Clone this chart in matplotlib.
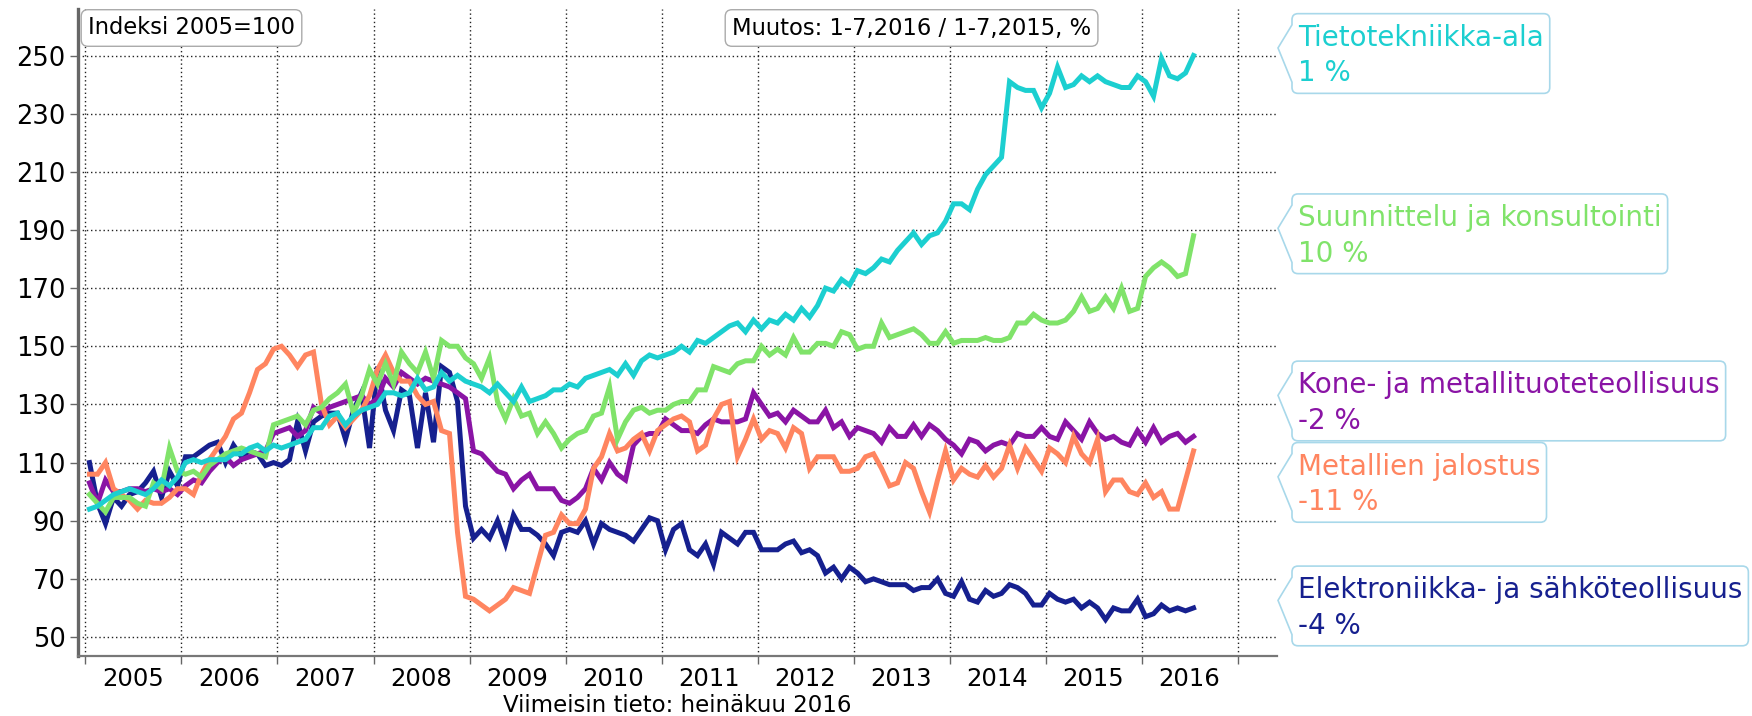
import numpy as np
import matplotlib
matplotlib.use("Agg")
import matplotlib.pyplot as plt
from matplotlib.path import Path
from matplotlib.transforms import blended_transform_factory

# monthly index 2005=100, Jan 2005 .. Jul 2016
tieto = [94, 95, 97, 99, 100, 101, 100, 99, 101, 104, 102, 105,
         110, 111, 110, 111, 111, 111, 113, 113, 115, 116, 114, 116,
         115, 116, 117, 118, 122, 122, 126, 127, 123, 126, 128, 129,
         130, 134, 134, 133, 134, 139, 135, 136, 141, 138, 140, 138,
         137, 136, 134, 137, 134, 131, 136, 131, 132, 133, 135, 135,
         137, 136, 139, 140, 141, 142, 140, 144, 140, 145, 147, 146,
         147, 148, 150, 148, 152, 151, 153, 155, 157, 158, 155, 159,
         156, 159, 158, 161, 159, 163, 160, 164, 170, 169, 173, 171,
         176, 175, 177, 180, 179, 183, 186, 189, 185, 188, 189, 193,
         199, 199, 197, 204, 209, 212, 215, 241, 239, 238, 238, 232,
         237, 246, 239, 240, 243, 241, 243, 241, 240, 239, 239, 243,
         241, 236, 249, 243, 242, 244, 250]

suunnittelu = [99, 96, 93, 98, 98, 98, 96, 95, 103, 101, 115, 107,
               106, 107, 105, 109, 111, 113, 114, 115, 114, 113, 112, 123,
               124, 125, 126, 123, 128, 129, 132, 134, 137, 127, 133, 142,
               137, 144, 137, 148, 144, 141, 148, 139, 152, 150, 150, 146,
               144, 139, 146, 131, 125, 132, 126, 127, 120, 124, 120, 115,
               118, 120, 121, 126, 127, 136, 118, 124, 128, 129, 127, 128,
               128, 130, 131, 131, 135, 135, 143, 142, 141, 144, 145, 145,
               150, 147, 149, 147, 153, 148, 148, 151, 151, 150, 155, 154,
               149, 150, 150, 158, 153, 154, 155, 156, 154, 151, 151, 155,
               151, 152, 152, 152, 153, 152, 152, 153, 158, 158, 161, 159,
               158, 158, 159, 162, 167, 162, 163, 167, 163, 170, 162, 163,
               174, 177, 179, 177, 174, 175, 188]

kone = [103, 96, 104, 100, 100, 101, 101, 100, 101, 100, 101, 99,
        102, 104, 103, 107, 110, 112, 109, 111, 112, 113, 114, 120,
        121, 122, 119, 121, 129, 127, 129, 130, 131, 132, 133, 130,
        132, 139, 136, 141, 139, 137, 139, 138, 137, 136, 134, 132,
        114, 113, 110, 107, 106, 101, 104, 106, 101, 101, 101, 97,
        96, 98, 101, 108, 104, 110, 106, 104, 116, 119, 120, 120,
        125, 123, 121, 121, 120, 123, 125, 124, 124, 124, 125, 134,
        130, 126, 127, 124, 128, 126, 124, 124, 128, 122, 124, 119,
        122, 121, 120, 117, 122, 119, 119, 123, 119, 123, 121, 118,
        116, 113, 118, 117, 114, 116, 117, 116, 120, 119, 119, 122,
        119, 118, 124, 121, 118, 124, 120, 118, 119, 117, 116, 121,
        117, 122, 117, 119, 120, 117, 119]

metallit = [106, 106, 110, 101, 99, 97, 94, 97, 96, 96, 98, 101,
            101, 99, 106, 111, 115, 119, 125, 127, 134, 142, 144, 149,
            150, 147, 143, 147, 148, 130, 123, 126, 122, 125, 128, 133,
            142, 147, 141, 138, 138, 133, 130, 131, 121, 120, 86, 64,
            63, 61, 59, 61, 63, 67, 66, 65, 75, 85, 86, 92,
            89, 89, 94, 108, 112, 120, 114, 115, 118, 120, 114, 121,
            123, 125, 126, 124, 114, 116, 125, 130, 131, 112, 118, 125,
            118, 121, 120, 115, 122, 120, 108, 112, 112, 112, 107, 107,
            108, 112, 113, 108, 102, 103, 110, 108, 100, 93, 104, 114,
            104, 108, 106, 105, 109, 105, 108, 116, 108, 115, 111, 107,
            115, 113, 110, 119, 113, 110, 118, 100, 104, 104, 100, 99,
            103, 98, 100, 94, 94, 104, 114]

elektroniikka = [110, 96, 89, 98, 95, 99, 100, 103, 107, 98, 107, 102,
                 112, 112, 114, 116, 117, 110, 116, 112, 114, 113, 109, 110,
                 109, 111, 124, 114, 124, 126, 127, 127, 118, 128, 134, 115,
                 143, 128, 121, 135, 133, 115, 134, 117, 143, 141, 131, 95,
                 84, 87, 84, 90, 82, 92, 87, 87, 85, 82, 78, 86,
                 87, 86, 90, 82, 89, 87, 86, 85, 83, 87, 91, 90,
                 80, 87, 89, 80, 78, 82, 75, 86, 84, 82, 86, 86,
                 80, 80, 80, 82, 83, 79, 80, 78, 72, 74, 70, 74,
                 72, 69, 70, 69, 68, 68, 68, 66, 67, 67, 70, 65,
                 64, 69, 63, 62, 66, 64, 65, 68, 67, 65, 61, 61,
                 65, 63, 62, 63, 60, 62, 60, 56, 60, 59, 59, 63,
                 57, 58, 61, 59, 60, 59, 60]

names = ["Elektroniikka- ja sähköteollisuus", "Kone- ja metallituoteteollisuus",
         "Metallien jalostus", "Suunnittelu ja konsultointi", "Tietotekniikka-ala"]
muutos = ["-4 %", "-2 %", "-11 %", "10 %", "1 %"]
colors = ["#16208f", "#8a14a5", "#ff8560", "#80e36a", "#1ccfd0"]
data = [elektroniikka, kone, metallit, suunnittelu, tieto]
years = list(range(2005, 2017))


def callout(x0, y0, width, height, mutation_size):
    # rounded box with a chevron on the left side
    px, pt, pb = 6, 10, 6
    x0, y0 = x0 - px, y0 - pb
    x1, y1 = x0 + width + 2 * px, y0 + height + pb + pt
    h = y1 - y0
    r, tip = 6, 14
    ya, yb, ym = y1 - 0.14 * h, y0 + 0.14 * h, y0 + 0.57 * h
    M, L, C, Z = Path.MOVETO, Path.LINETO, Path.CURVE3, Path.CLOSEPOLY
    verts = [(x0 + r, y0), (x1 - r, y0), (x1, y0), (x1, y0 + r), (x1, y1 - r),
             (x1, y1), (x1 - r, y1), (x0 + r, y1), (x0, y1), (x0, y1 - r),
             (x0, ya), (x0 - tip, ym), (x0, yb), (x0, y0 + r), (x0, y0),
             (x0 + r, y0), (x0 + r, y0)]
    codes = [M, L, C, C, L, C, C, L, C, C, L, L, L, L, C, C, Z]
    return Path(verts, codes)


fig = plt.figure(figsize=(17.52, 7.16), dpi=100)
ax = fig.add_axes([78 / 1752, 1 - 656 / 716, 1199 / 1752, 647 / 716])

n = len(tieto)
x = 2005 + (np.arange(n) + 0.5) / 12
for vals, c in zip(data, colors):
    ax.plot(x, vals, color=c, lw=3.6, solid_joinstyle="miter", zorder=3)

ax.set_xlim(2004.922, 2017.411)
ax.set_ylim(43.47, 266)
ax.set_yticks(range(50, 251, 20))
ax.set_xticks(range(2005, 2018))
ax.set_xticklabels([])
ax.set_xticks([y + 0.5 for y in years], minor=True)
ax.set_xticklabels([str(y) for y in years], minor=True)
ax.tick_params(axis="x", which="minor", length=0, labelsize=17.5, pad=8)
ax.tick_params(axis="x", which="major", length=6, width=1, color="#666666")
ax.tick_params(axis="y", length=6, width=1, color="#666666", labelsize=18.5, pad=3)
ax.grid(True, which="major", color="#222222", linestyle=(0, (1, 2)), lw=1)
for s in ["top", "right"]:
    ax.spines[s].set_visible(False)
ax.spines["left"].set_color("#666666")
ax.spines["left"].set_linewidth(2.4)
ax.spines["bottom"].set_color("#777777")
ax.spines["bottom"].set_linewidth(1.6)

box = dict(boxstyle="round,pad=0.3,rounding_size=0.3", fc="white", ec="#aaaaaa", lw=1)
fig.text(88 / 1752, 1 - 28 / 716, "Indeksi 2005=100", fontsize=16.3, va="center",
         ha="left", bbox=box)
fig.text(732 / 1752, 1 - 28 / 716, "Muutos: 1-7,2016 / 1-7,2015, %", fontsize=16.3,
         va="center", ha="left", bbox=box)
fig.text(0.5 * (78 + 1277) / 1752, 1 - 705 / 716, "Viimeisin tieto: heinäkuu 2016",
         fontsize=16.5, ha="center", va="center")

# label positions: at last value, pushed apart where boxes would overlap
ypos = [float(v[-1]) for v in data]
order = np.argsort(ypos)
gap = 28
for _ in range(50):
    for a, b in zip(order[:-1], order[1:]):
        if ypos[b] - ypos[a] < gap:
            mid = 0.5 * (ypos[a] + ypos[b])
            ypos[a], ypos[b] = mid - gap / 2, mid + gap / 2

tr = blended_transform_factory(fig.transFigure, ax.transData)
for name, m, c, yv in zip(names, muutos, colors, ypos):
    fig.text(1298 / 1752, yv, name + "\n" + m, transform=tr, color=c, fontsize=20,
             ha="left", va="center", linespacing=1.35,
             bbox=dict(boxstyle=callout, fc="white", ec="#a8d8ea", lw=1.2))

fig.savefig("out.png", dpi=100)
